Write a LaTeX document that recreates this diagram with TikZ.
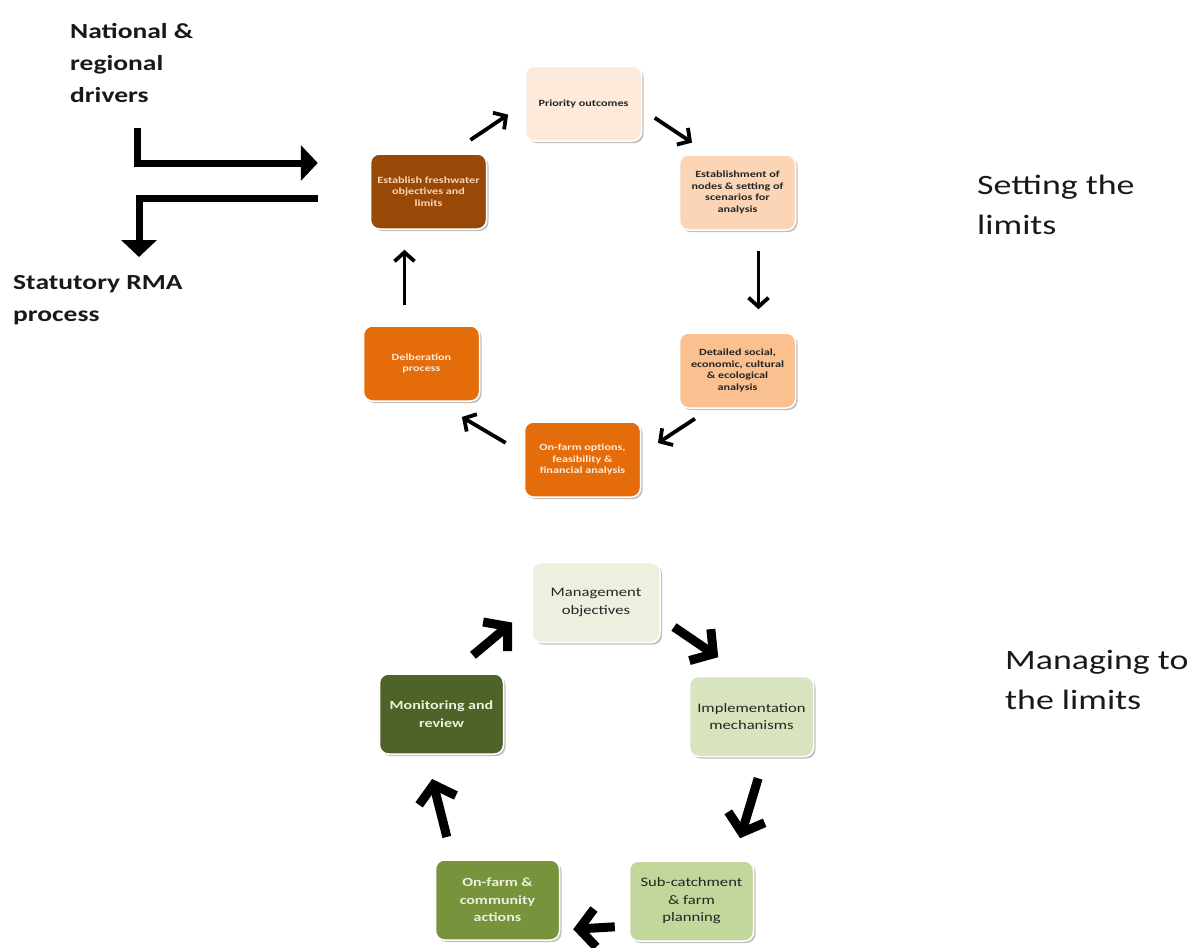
\documentclass[tikz,border=0pt]{standalone}
\usepackage{fontspec}
\setmainfont{Carlito}[FakeStretch=1.28]
\usetikzlibrary{arrows.meta,shadows}

\definecolor{prioc}{HTML}{FDEADA}
\definecolor{nodec}{HTML}{FBD5B5}
\definecolor{detc}{HTML}{FAC090}
\definecolor{orangec}{HTML}{E46C0A}
\definecolor{brownc}{HTML}{984807}
\definecolor{mgmtc}{HTML}{EBF1DE}
\definecolor{implc}{HTML}{D7E4BD}
\definecolor{subc}{HTML}{C3D69B}
\definecolor{actc}{HTML}{77933C}
\definecolor{monc}{HTML}{4F6228}

\begin{document}
\begin{tikzpicture}[x=1pt, y=-1pt, align=center,
  box/.style={draw=white, line width=1.5pt, rounded corners=9pt, inner sep=2pt,
    drop shadow={shadow xshift=2pt, shadow yshift=-2pt, fill=black!50, opacity=.5}},
  upper/.style={box, minimum width=116pt, minimum height=75pt, text=black!85,
    font=\bfseries\fontsize{9.5}{11.7}\selectfont},
  lower/.style={box, minimum width=124pt, minimum height=80pt, text=black!85,
    font=\fontsize{13}{17.5}\selectfont},
  thinarr/.style={line width=3.8pt, -{Straight Barb[length=9pt,width=20pt]}},
  fatarr/.style={line width=9pt, -{Straight Barb[length=16pt,width=38pt]}},
  bigarr/.style={line width=7pt, -{Triangle[length=17pt,width=35pt]}},
  lbl/.style={inner sep=0pt, align=left, text=black!90, font=\bfseries\fontsize{21.5}{32}\selectfont},
  side/.style={inner sep=0pt, align=left, text=black!90, font=\fontsize{28}{40}\selectfont}
]
  \useasboundingbox (0,0) rectangle (1195,948);

  % setting the limits
  \node[upper, fill=prioc] (prio) at (583.5,103.5) {Priority outcomes};
  \node[upper, fill=nodec] (nodes) at (737.5,192.5) {Establishment of\\nodes \& setting of\\scenarios for\\analysis};
  \node[upper, fill=detc] (det) at (737.5,370.5) {Detailed social,\\economic, cultural\\\& ecological\\analysis};
  \node[upper, fill=orangec, text=prioc] (opt) at (582.5,459.5) {On-farm options,\\feasibility \&\\financial analysis};
  \node[upper, fill=orangec, text=prioc] (delib) at (421.5,363.5) {Delberation\\process};
  \node[upper, fill=brownc, text=nodec] (est) at (428.5,191.5) {Establish freshwater\\objectives and\\limits};

  \draw[thinarr, shorten <=24pt, shorten >=20pt] ([shift={(22,0)}]est.north) -- (prio.west);
  \draw[thinarr, shorten <=15pt, shorten >=21pt] ([shift={(0,6)}]prio.east) -- ([shift={(-28,0)}]nodes.north);
  \draw[thinarr, shorten <=20pt, shorten >=23pt] ([shift={(21,0)}]nodes.south) -- ([shift={(21,0)}]det.north);
  \draw[thinarr, shorten <=18pt, shorten >=20pt] ([shift={(-27.5,0)}]det.south) -- ([shift={(0,-5.5)}]opt.east);
  \draw[thinarr, shorten <=21pt, shorten >=30pt] ([shift={(0,-6)}]opt.west) -- ([shift={(14.5,0)}]delib.south);
  \draw[thinarr, shorten <=20pt, shorten >=20pt] ([shift={(-17,0)}]delib.north) -- ([shift={(-24,0)}]est.south);

  % managing to the limits
  \node[lower, fill=mgmtc, minimum width=128pt] (mgmt) at (596,602.5) {Management\\objectives};
  \node[lower, fill=implc] (impl) at (751.5,716.5) {Implementation\\mechanisms};
  \node[lower, fill=subc] (sub) at (691.5,901) {Sub-catchment\\\& farm\\planning};
  \node[lower, fill=actc, text=mgmtc, font=\bfseries\fontsize{12.5}{17.5}\selectfont] (act) at (497.5,900) {On-farm \&\\community\\actions};
  \node[lower, fill=monc, text=mgmtc, font=\bfseries\fontsize{12.5}{17.5}\selectfont] (mon) at (441.5,714) {Monitoring and\\review};

  \draw[fatarr, shorten <=28pt, shorten >=25pt] ([shift={(10,0)}]mon.north) -- ([shift={(0,4)}]mgmt.west);
  \draw[fatarr, shorten <=16pt, shorten >=33pt] ([shift={(0,15.5)}]mgmt.east) -- ([shift={(-6,0)}]impl.north);
  \draw[fatarr, shorten <=22pt, shorten >=23pt] ([shift={(13,0)}]impl.south) -- ([shift={(42,0)}]sub.north);
  \draw[fatarr, shorten <=14pt, shorten >=13pt] ([shift={(0,25)}]sub.west) -- ([shift={(0,30)}]act.east);
  \draw[fatarr, shorten <=23pt, shorten >=25pt] ([shift={(-45,0)}]act.north) -- ([shift={(-15.5,0)}]mon.south);

  % drivers and RMA process
  \node[lbl, anchor=north west] (drv) at (70,23) {National \&\\regional\\drivers};
  \node[lbl, anchor=north west] (sta) at (13,275) {Statutory RMA\\process};
  \draw[bigarr] ([shift={(67,25)}]drv.south west) |- ([shift={(-52,-28.5)}]est.west);
  \draw[bigarr, shorten >=18pt] ([shift={(-52,6.5)}]est.west) -| ([shift={(126,0)}]sta.north west);

  \node[side, anchor=north west] (set) at (977,175) {Setting the\\limits};
  \node[side, anchor=north west] (man) at (1005,650) {Managing to\\the limits};
\end{tikzpicture}
\end{document}
